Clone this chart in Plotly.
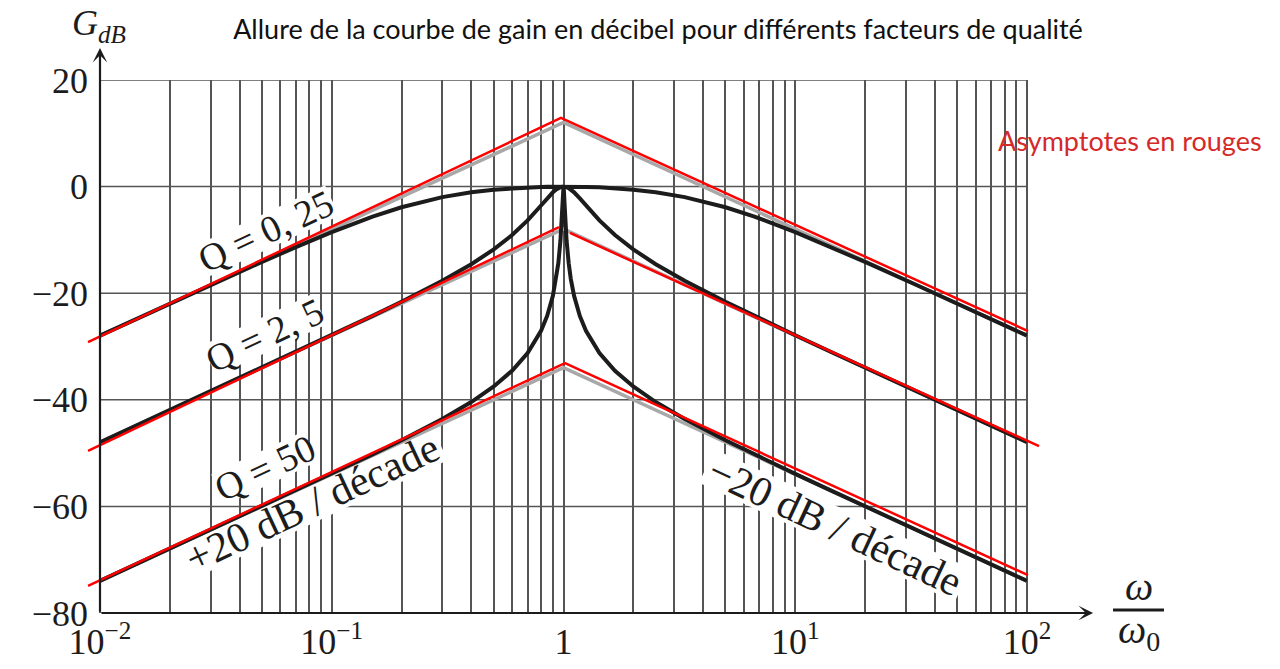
import math
import plotly.graph_objects as go

# ---------------- data ----------------
omega = [0.01, 0.02, 0.03, 0.05, 0.07, 0.1, 0.15, 0.2, 0.3, 0.4, 0.5, 0.6, 0.7, 0.8, 0.85,
         0.9, 0.93, 0.95, 0.97, 0.98, 0.99, 0.995, 1.0,
         1.005, 1.01, 1.02, 1.031, 1.053, 1.075, 1.111, 1.176, 1.25, 1.429, 1.667, 2.0,
         2.5, 3.333, 5.0, 6.667, 10.0, 14.29, 20.0, 33.33, 50.0, 100.0]

g_q025 = [-27.97, -21.96, -18.47, -14.13, -11.35, -8.53, -5.63, -3.87, -1.97, -1.06, -0.57,
          -0.30, -0.14, -0.06, -0.03, -0.01, -0.01, 0.0, 0.0, 0.0, 0.0, 0.0, 0.0,
          0.0, 0.0, 0.0, 0.0, 0.0, -0.01, -0.01, -0.03, -0.06, -0.14, -0.30, -0.57,
          -1.06, -1.97, -3.87, -5.63, -8.53, -11.35, -14.13, -18.47, -21.96, -27.97]

g_q25 = [-47.96, -41.94, -38.41, -33.96, -31.02, -27.88, -24.26, -21.61, -17.67, -14.56, -11.78,
         -9.09, -6.35, -3.55, -2.22, -1.07, -0.54, -0.28, -0.10, -0.04, -0.01, 0.0, 0.0,
         0.0, -0.01, -0.04, -0.10, -0.28, -0.54, -1.07, -2.22, -3.55, -6.35, -9.09, -11.78,
         -14.56, -17.67, -21.61, -24.26, -27.88, -31.02, -33.96, -38.41, -41.94, -47.96]

g_q50 = [-73.98, -67.96, -64.43, -59.98, -57.04, -53.89, -50.26, -47.60, -43.62, -40.42, -37.50,
         -34.54, -31.23, -27.05, -24.27, -20.51, -17.30, -14.37, -10.12, -7.06, -3.03, -0.97, 0.0,
         -0.97, -3.03, -7.06, -10.12, -14.37, -17.30, -20.51, -24.27, -27.05, -31.23, -34.54, -37.50,
         -40.42, -43.62, -47.60, -50.26, -53.89, -57.04, -59.98, -64.43, -67.96, -73.98]

# theoretical asymptotes (grey, original figure)
asym_x = [0.01, 1.0, 100.0]
asym_q025 = [-27.96, 12.04, -27.96]
asym_q25 = [-47.96, -7.96, -47.96]
asym_q50 = [-73.98, -33.98, -73.98]

# hand-drawn red asymptotes
red_x_q025 = [0.00888, 0.975, 101.0]
red_y_q025 = [-29.2, 12.9, -27.1]
red_x_q25 = [0.00888, 0.956, None, 1.067, 112.7]
red_y_q25 = [-49.6, -7.6, None, -8.7, -48.7]
red_x_q50 = [0.00888, 1.015, 101.0]
red_y_q50 = [-74.9, -33.1, -72.9]

# axes ticks
x_decades = [0.01, 0.1, 1, 10, 100]
x_decade_labels = ["10<sup>−2</sup>", "10<sup>−1</sup>", "1", "10<sup>1</sup>", "10<sup>2</sup>"]
y_ticks = [-80, -60, -40, -20, 0, 20]
y_tick_labels = ["−80", "−60", "−40", "−20", "0", "20"]

title_text = "Allure de la courbe de gain en décibel pour différents facteurs de qualité"
note_text = "Asymptotes en rouges"

# ---------------- layout geometry ----------------
W, H = 1280, 669
ML, MR, MT, MB = 86, 238, 80, 56
PW, PH = W - ML - MR, H - MT - MB
X_RANGE = [-2.0604, 2.0647]
Y_RANGE = [-80, 20]

SERIF = "Liberation Serif"
BLACK = "#1c1c1c"
GRID = "#555555"


def data_to_px(lx, y):
    px = ML + (lx - X_RANGE[0]) / (X_RANGE[1] - X_RANGE[0]) * PW
    py = MT + (Y_RANGE[1] - y) / (Y_RANGE[1] - Y_RANGE[0]) * PH
    return px, py


def px_to_data(px, py):
    lx = X_RANGE[0] + (px - ML) / PW * (X_RANGE[1] - X_RANGE[0])
    y = Y_RANGE[1] - (py - MT) / PH * (Y_RANGE[1] - Y_RANGE[0])
    return 10 ** lx, y


# vertical grid: 1..9 per decade
x_grid, x_grid_text = [], []
for d, lab in zip(x_decades[:-1], x_decade_labels[:-1]):
    for k in range(1, 10):
        x_grid.append(d * k)
        x_grid_text.append(lab if k == 1 else "")
x_grid.append(x_decades[-1])
x_grid_text.append(x_decade_labels[-1])

fig = go.Figure()

for ay in (asym_q025, asym_q25, asym_q50):
    fig.add_trace(go.Scatter(x=asym_x, y=ay, mode="lines",
                             line=dict(color="#a8a8a8", width=3.5), hoverinfo="skip"))

for gy in (g_q025, g_q25, g_q50):
    fig.add_trace(go.Scatter(x=omega, y=gy, mode="lines",
                             line=dict(color=BLACK, width=4), hoverinfo="skip"))

for rx, ry in ((red_x_q025, red_y_q025), (red_x_q25, red_y_q25), (red_x_q50, red_y_q50)):
    fig.add_trace(go.Scatter(x=rx, y=ry, mode="lines",
                             line=dict(color="#ff0000", width=2.5), hoverinfo="skip"))

shapes = []
# horizontal grid lines (limited to the 1e-2 .. 1e2 span)
for yv in y_ticks:
    shapes.append(dict(type="line", xref="x", yref="y", x0=x_decades[0], x1=x_decades[-1],
                       y0=yv, y1=yv, line=dict(color=GRID, width=1.5), layer="below"))
# fraction bar of omega/omega0
shapes.append(dict(type="line", xref="paper", yref="paper", x0=1.0743, x1=1.1276,
                   y0=0.0056, y1=0.0056, line=dict(color=BLACK, width=3)))

annotations = []
# axis arrows
annotations.append(dict(x=-2, y=26.0, xref="x", yref="y", ax=-2, ay=-80, axref="x", ayref="y",
                        showarrow=True, arrowhead=3, arrowsize=1.1, arrowwidth=2.2,
                        arrowcolor=BLACK, text=""))
annotations.append(dict(x=2.285, y=-80, xref="x", yref="y", ax=-2, ay=-80, axref="x", ayref="y",
                        showarrow=True, arrowhead=3, arrowsize=1.1, arrowwidth=2.2,
                        arrowcolor=BLACK, text=""))

# rotated labels: (text, log10 x, y dB, angle, font size, box length px)
NB = "\u00a0"
rot_labels = [("Q = 0, 25", -1.284, -8.4, -25, 38, 146),
              ("Q = 2, 5", -1.290, -27.8, -25, 38, 122),
              ("Q = 50", -1.290, -52.8, -25, 38, 102),
              ("+20 dB" + NB + "/" + NB + "décade", -1.085, -59.4, -25, 42, 282),
              ("−20 dB" + NB + "/" + NB + "décade", 1.170, -63.6, 25, 42, 282)]
for txt, lx, ly, ang, sz, blen in rot_labels:
    cx, cy = data_to_px(lx, ly)
    t = math.radians(ang)
    ux, uy = math.cos(t), math.sin(t)
    vx, vy = -math.sin(t), math.cos(t)
    hl, hh = blen / 2, 0.44 * sz
    corners = [(cx - ux * hl - vx * hh, cy - uy * hl - vy * hh),
               (cx + ux * hl - vx * hh, cy + uy * hl - vy * hh),
               (cx + ux * hl + vx * hh, cy + uy * hl + vy * hh),
               (cx - ux * hl + vx * hh, cy - uy * hl + vy * hh)]
    pts = [px_to_data(px, py) for px, py in corners]
    path = "M " + " L ".join(f"{px:.6g},{py:.4f}" for px, py in pts) + " Z"
    shapes.append(dict(type="path", xref="x", yref="y", path=path,
                       fillcolor="white", line=dict(width=0), layer="between"))
    annotations.append(dict(x=lx, y=ly, xref="x", yref="y", text=txt, showarrow=False,
                            textangle=ang, font=dict(family=SERIF, size=sz, color=BLACK),
                            xanchor="center", yanchor="middle"))

# G_dB
annotations.append(dict(x=0.0136, y=1.103, xref="paper", yref="paper",
                        text="<i>G</i><sub><i>dB</i></sub>", showarrow=False,
                        font=dict(family=SERIF, size=36, color=BLACK),
                        xanchor="center", yanchor="middle"))
# omega / omega0
annotations.append(dict(x=1.101, y=0.050, xref="paper", yref="paper", text="<i>ω</i>",
                        showarrow=False, font=dict(family=SERIF, size=40, color=BLACK),
                        xanchor="center", yanchor="middle"))
annotations.append(dict(x=1.101, y=-0.036, xref="paper", yref="paper", text="<i>ω</i><sub>0</sub>",
                        showarrow=False, font=dict(family=SERIF, size=40, color=BLACK),
                        xanchor="center", yanchor="middle"))
# note
annotations.append(dict(x=1.092, y=0.887, xref="paper", yref="paper", text=note_text,
                        showarrow=False, font=dict(family="Lato", size=27, color="#d42a2a"),
                        xanchor="center", yanchor="middle"))

fig.update_layout(
    width=W, height=H,
    margin=dict(l=ML, r=MR, t=MT, b=MB),
    plot_bgcolor="white", paper_bgcolor="white",
    showlegend=False,
    title=dict(text=title_text, x=658 / W, y=1 - 30 / H, xanchor="center", yanchor="middle",
               font=dict(family="Lato", size=27, color="#111111")),
    xaxis=dict(type="log", range=X_RANGE, tickvals=x_grid, ticktext=x_grid_text,
               showgrid=True, gridcolor=GRID, gridwidth=1.5, zeroline=False, showline=False,
               ticks="", tickfont=dict(family=SERIF, size=36, color=BLACK), automargin=False,
               ticklabelstandoff=4),
    yaxis=dict(range=Y_RANGE, tickvals=y_ticks, ticktext=y_tick_labels, showgrid=False,
               zeroline=False, showline=False, anchor="free", position=14 / PW, ticks="",
               tickfont=dict(family=SERIF, size=36, color=BLACK), automargin=False,
               ticklabelstandoff=12),
    shapes=shapes,
    annotations=annotations,
)

fig.write_html("out.html")
